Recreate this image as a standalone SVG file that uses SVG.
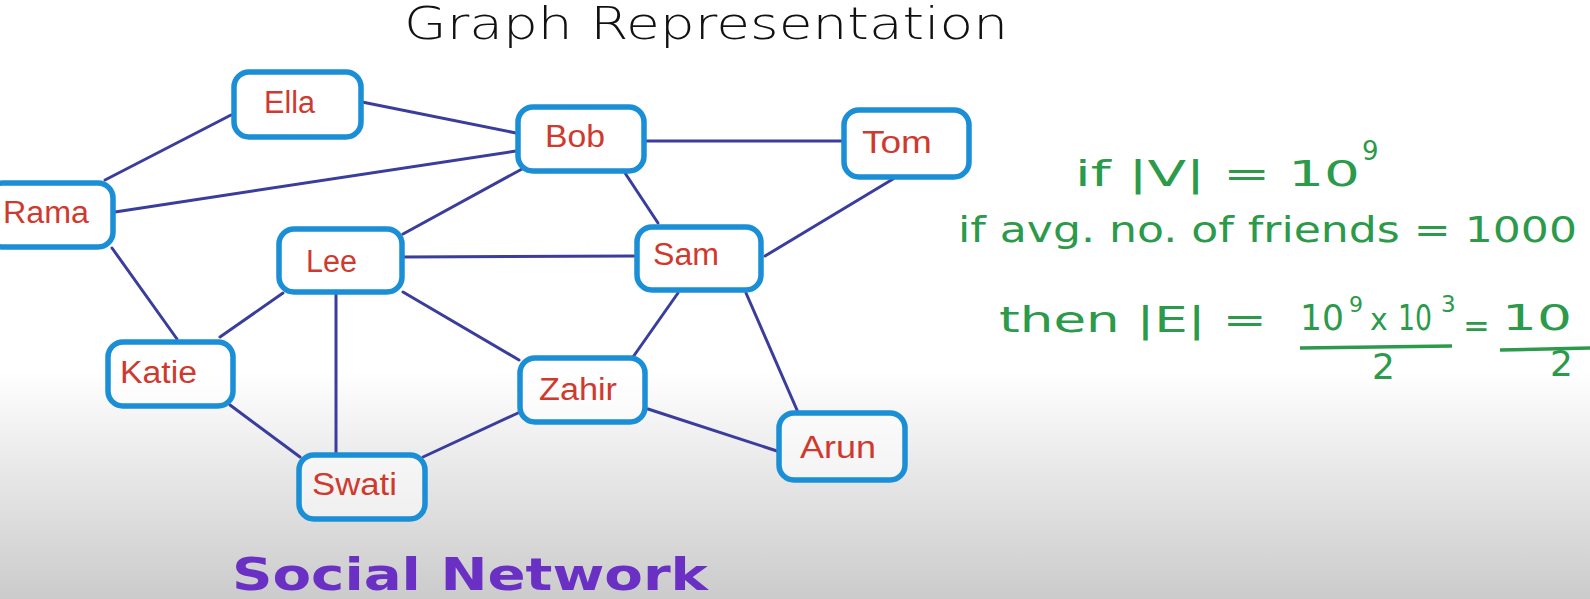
<svg xmlns="http://www.w3.org/2000/svg" width="1590" height="599" viewBox="0 0 1590 599">
<defs>
<linearGradient id="bg" x1="0" y1="0" x2="0" y2="1">
<stop offset="0" stop-color="#ffffff"/>
<stop offset="0.62" stop-color="#ffffff"/>
<stop offset="0.8" stop-color="#e6e6e6"/>
<stop offset="1" stop-color="#cbcbcb"/>
</linearGradient>
<style>
.box{fill:#ffffff;fill-opacity:0.55;stroke:#1b8fd6;stroke-width:5.5}
.lbl{font-family:"Liberation Sans",Arial,sans-serif;font-size:31px;fill:#cf3a2e}
.edge{stroke:#3a3d9c;stroke-width:3;fill:none;stroke-linecap:round}
.hand{font-family:"DejaVu Sans","Liberation Sans",sans-serif}
.green{fill:#2b9a4a;font-size:36px}
</style>
</defs>
<rect x="0" y="0" width="1590" height="599" fill="url(#bg)"/>

<text class="hand" x="404" y="39" font-size="44" fill="#111" font-weight="300" textLength="604" lengthAdjust="spacingAndGlyphs">Graph  Representation</text>

<g id="connectors">
<line class="edge" x1="231" y1="115" x2="105" y2="180"/>
<line class="edge" x1="362" y1="102" x2="516" y2="133"/>
<line class="edge" x1="115" y1="212" x2="516" y2="151"/>
<line class="edge" x1="403" y1="234" x2="522" y2="169"/>
<line class="edge" x1="645" y1="141" x2="842" y2="141"/>
<line class="edge" x1="625" y1="173" x2="658" y2="223"/>
<line class="edge" x1="893" y1="179" x2="765" y2="256"/>
<line class="edge" x1="403" y1="257" x2="635" y2="256"/>
<line class="edge" x1="112" y1="248" x2="177" y2="339"/>
<line class="edge" x1="283" y1="293" x2="220" y2="337"/>
<line class="edge" x1="336" y1="293" x2="336" y2="453"/>
<line class="edge" x1="403" y1="292" x2="519" y2="360"/>
<line class="edge" x1="678" y1="293" x2="633" y2="357"/>
<line class="edge" x1="746" y1="293" x2="797" y2="410"/>
<line class="edge" x1="648" y1="409" x2="777" y2="451"/>
<line class="edge" x1="518" y1="413" x2="423" y2="457"/>
<line class="edge" x1="230" y1="405" x2="300" y2="457"/>
</g>

<g id="node-ella"><rect class="box" x="234" y="72" width="127" height="65" rx="15"/><text class="lbl" x="264" y="113" textLength="51" lengthAdjust="spacingAndGlyphs">Ella</text></g>
<g id="node-bob"><rect class="box" x="518" y="107" width="126" height="64" rx="15"/><text class="lbl" x="545" y="147" textLength="60" lengthAdjust="spacingAndGlyphs">Bob</text></g>
<g id="node-tom"><rect class="box" x="844" y="110" width="125" height="67" rx="15"/><text class="lbl" x="862" y="153" textLength="70" lengthAdjust="spacingAndGlyphs">Tom</text></g>
<g id="node-rama"><rect class="box" x="-12" y="183" width="125" height="64" rx="15"/><text class="lbl" x="3" y="223" textLength="86" lengthAdjust="spacingAndGlyphs">Rama</text></g>
<g id="node-lee"><rect class="box" x="279" y="229" width="123" height="63" rx="15"/><text class="lbl" x="306" y="272" textLength="51" lengthAdjust="spacingAndGlyphs">Lee</text></g>
<g id="node-sam"><rect class="box" x="637" y="227" width="124" height="63" rx="15"/><text class="lbl" x="653" y="265" textLength="66" lengthAdjust="spacingAndGlyphs">Sam</text></g>
<g id="node-katie"><rect class="box" x="108" y="342" width="125" height="64" rx="15"/><text class="lbl" x="120" y="383" textLength="77" lengthAdjust="spacingAndGlyphs">Katie</text></g>
<g id="node-zahir"><rect class="box" x="520" y="358" width="125" height="64" rx="15"/><text class="lbl" x="539" y="400" textLength="78" lengthAdjust="spacingAndGlyphs">Zahir</text></g>
<g id="node-arun"><rect class="box" x="779" y="413" width="126" height="67" rx="15"/><text class="lbl" x="800" y="458" textLength="76" lengthAdjust="spacingAndGlyphs">Arun</text></g>
<g id="node-swati"><rect class="box" x="299" y="455" width="126" height="64" rx="15"/><text class="lbl" x="312" y="495" textLength="85" lengthAdjust="spacingAndGlyphs">Swati</text></g>

<g class="hand green">
<text x="1075" y="186" textLength="285" lengthAdjust="spacingAndGlyphs">if  |V|  =  10</text>
<text x="1362" y="160" font-size="26">9</text>
<text x="958" y="242" textLength="619" lengthAdjust="spacingAndGlyphs">if  avg.  no.  of  friends = 1000</text>
<text x="999" y="332" textLength="268" lengthAdjust="spacingAndGlyphs">then  |E|  =</text>
<text x="1300" y="330" textLength="44" lengthAdjust="spacingAndGlyphs">10</text>
<text x="1349" y="312" font-size="22">9</text>
<text x="1370" y="330" font-size="30">x</text>
<text x="1398" y="330" textLength="34" lengthAdjust="spacingAndGlyphs">10</text>
<text x="1441" y="312" font-size="23">3</text>
<line x1="1300" y1="348" x2="1452" y2="346" stroke="#2b9a4a" stroke-width="3.5"/>
<text x="1372" y="379">2</text>
<text x="1463" y="337" font-size="32">=</text>
<text x="1502" y="330" textLength="70" lengthAdjust="spacingAndGlyphs">10</text>
<line x1="1500" y1="350" x2="1590" y2="348" stroke="#2b9a4a" stroke-width="3.5"/>
<text x="1550" y="376">2</text>
</g>

<text class="hand" x="232" y="590" font-size="44" fill="#6a30c4" font-weight="bold" textLength="476" lengthAdjust="spacingAndGlyphs">Social  Network</text>
</svg>
